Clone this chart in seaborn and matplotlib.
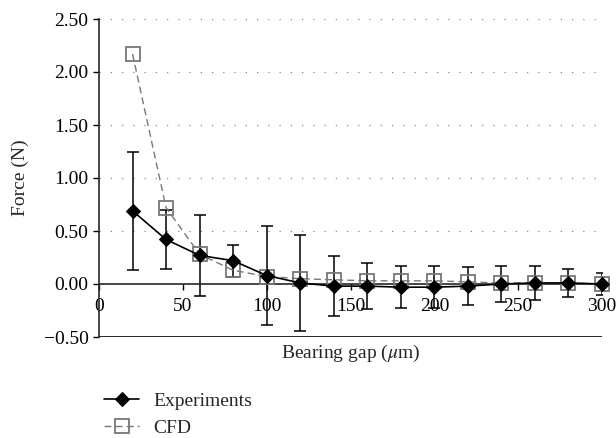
import numpy as np
import pandas as pd
import seaborn as sns
import matplotlib.pyplot as plt
from matplotlib.ticker import FuncFormatter

gap = [20, 40, 60, 80, 100, 120, 140, 160, 180, 200, 220, 240, 260, 280, 300]
experiments = [0.69, 0.42, 0.27, 0.22, 0.08, 0.01, -0.02, -0.02, -0.03, -0.03,
               -0.02, 0.00, 0.01, 0.01, 0.00]
exp_err = [0.56, 0.28, 0.38, 0.15, 0.47, 0.45, 0.28, 0.22, 0.20, 0.20,
           0.18, 0.17, 0.16, 0.13, 0.10]
cfd = [2.17, 0.72, 0.28, 0.13, 0.07, 0.05, 0.04, 0.03, 0.03, 0.03,
       0.02, 0.01, 0.01, 0.01, 0.00]

df = pd.DataFrame({'gap': gap, 'Experiments': experiments, 'CFD': cfd})

sns.set_style('ticks')
plt.rcParams['font.family'] = ['Liberation Serif', 'DejaVu Serif']
plt.rcParams['mathtext.fontset'] = 'stix'
fs = 14

fig = plt.figure(figsize=(6.16, 4.38), dpi=100)
ax = fig.add_axes([99 / 616, 1 - 337 / 438, 503 / 616, 318 / 438])

# dotted grid lines
for yv in [0.5, 1.0, 1.5, 2.0, 2.5]:
    ax.axhline(yv, color='#888888', lw=0.9, ls=(0, (1, 8)), zorder=0)
ax.axhline(-0.5, color='black', lw=1.2, zorder=1)

ax.errorbar(gap, experiments, yerr=exp_err, fmt='none', ecolor='black',
            elinewidth=1.1, capsize=4, capthick=1.1, zorder=2)

sns.lineplot(data=df, x='gap', y='CFD', ax=ax, color='#777777', lw=1.0,
             linestyle=(0, (5, 3)), marker='s', markersize=9.5,
             markerfacecolor='none', markeredgecolor='#777777',
             markeredgewidth=1.3, label='CFD', zorder=3, clip_on=False)
sns.lineplot(data=df, x='gap', y='Experiments', ax=ax, color='black', lw=1.2,
             marker='D', markersize=7.5, markerfacecolor='black',
             markeredgecolor='black', label='Experiments', zorder=4,
             clip_on=False)

ax.set_xlim(0, 300)
ax.set_ylim(-0.5, 2.5)
ax.set_xticks([0, 50, 100, 150, 200, 250, 300])
ax.set_yticks([-0.5, 0, 0.5, 1.0, 1.5, 2.0, 2.5])
ax.yaxis.set_major_formatter(FuncFormatter(
    lambda v, p: f'{v:.2f}'.replace('-', '\u2212') if abs(v) > 1e-9 else '0.00'))

ax.spines['top'].set_visible(False)
ax.spines['right'].set_visible(False)
ax.spines['bottom'].set_position(('data', 0))
ax.spines['left'].set_linewidth(1.2)
ax.spines['bottom'].set_linewidth(1.2)
ax.tick_params(axis='both', direction='out', length=4, width=1.0,
               labelsize=fs, colors='black')
ax.tick_params(axis='x', pad=6)

ax.set_ylabel('Force (N)', fontsize=fs)
ax.yaxis.set_label_coords(-0.14, 0.5)
ax.set_xlabel('Bearing gap ($\\mu$m)', fontsize=fs)
ax.xaxis.set_label_coords(0.5, -0.02)

handles, labels = ax.get_legend_handles_labels()
order = [labels.index('Experiments'), labels.index('CFD')]
ax.legend([handles[i] for i in order], [labels[i] for i in order],
          loc='upper left', bbox_to_anchor=(-0.02, -0.125), frameon=False,
          fontsize=fs, handlelength=1.8, handletextpad=0.7,
          labelspacing=0.5, borderpad=0.3)

fig.savefig('out.png', dpi=100)
